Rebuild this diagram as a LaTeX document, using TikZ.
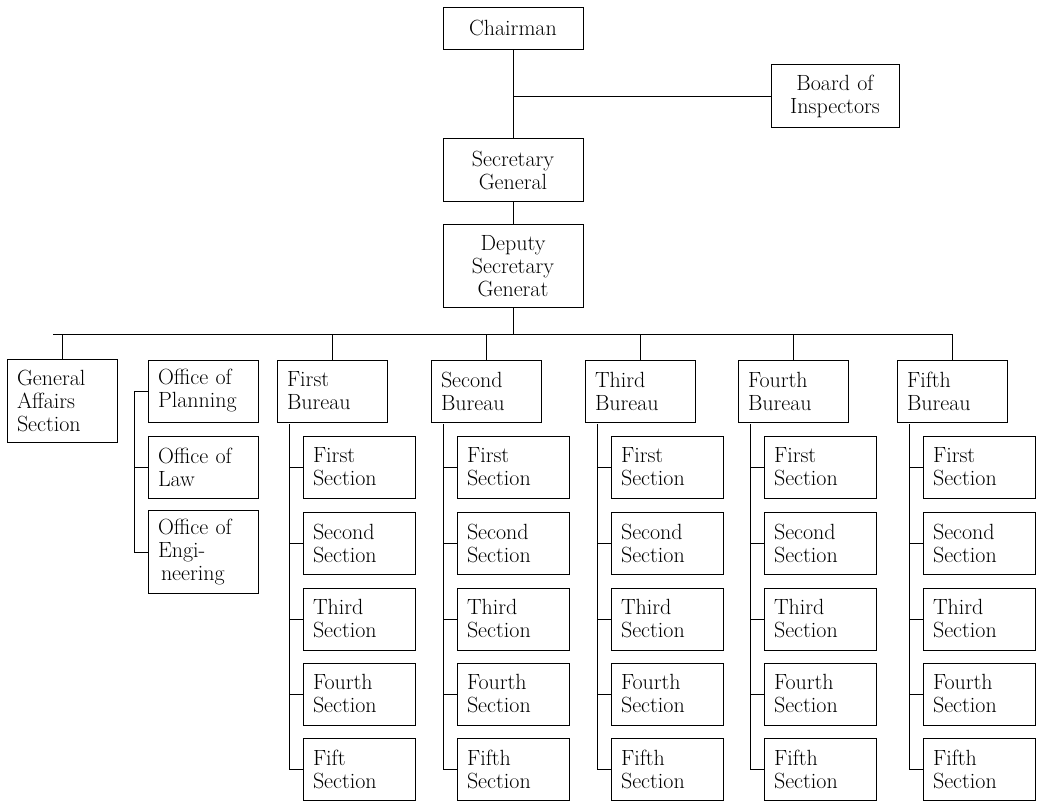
\documentclass[tikz,border=0pt]{standalone}
\usepackage{tikz}
\usetikzlibrary{positioning}

\tikzset{
  box/.style={draw, inner xsep=10pt, inner ysep=0pt, text width=90pt,
    minimum height=62pt, align=left, font=\fontsize{22}{23}\selectfont},
  cbox/.style={box, align=center},
}

\begin{document}
\begin{tikzpicture}[x=1pt, y=-1pt, line width=0.9pt]
\useasboundingbox (0,0) rectangle (1040,801);

% top of the chart
\node[cbox, text width=120pt, minimum height=42pt] (chair) at (513,28) {Chairman};
\node[cbox, text width=108pt, minimum height=63pt] (board) at (835,96) {Board of\\Inspectors};
\node[cbox, text width=120pt, minimum height=63pt] (sec) at (513,170) {Secretary\\General};
\node[cbox, text width=120pt, minimum height=83pt] (dep) at (513,266) {Deputy\\Secretary\\Generat};
\coordinate (bar) at (513,334);
\coordinate (barl) at (53,334);

\draw (chair) -- (sec);
\draw (board.west) -- (board.west -| chair);
\draw (sec) -- (dep);
\draw (dep) -- (bar);

% left side
\node[box, minimum height=83pt] (ga) at (62,401) {General\\Affairs\\Section};
\node[box] (op) at (203,391) {Office of\\Planning};
\node[box] (ol) at (203,467) {Office of\\Law};
\node[box, minimum height=83pt] (oe) at (203,552) {Office of\\Engi-\\\hspace{3pt}neering};
\coordinate (ko) at (134,391);

\draw (ga.north) -- (ga.north |- bar);
\draw (op.west) -- (ko) -- (ko |- oe.west) -- (oe.west);
\draw (ol.west) -- (ol.west -| ko);

% bureaus and their sections
\foreach \b/\x/\n in {1/332/First, 2/486/Second, 3/640/Third, 4/793/Fourth, 5/952/Fifth} {
  \node[box] (b\b) at (\x,391) {\n\\Bureau};
  \draw (b\b.north) -- (b\b.north |- bar);
  \coordinate (k\b) at ({\x-43},424);
  \foreach \s/\y/\t in {1/467/First, 2/543/Second, 3/619/Third, 4/694/Fourth, 5/769/Fifth} {
    \node[box, text width=92pt] (s\b\s) at ({\x+27},\y) {\ifnum\b\s=15 Fift\else\t\fi\\Section};
    \draw (s\b\s.west) -- (s\b\s.west -| k\b);
  }
  \draw (k\b) -- (k\b |- s\b5.west);
}
\draw (barl) -- (b5.north |- bar);
\end{tikzpicture}
\end{document}
